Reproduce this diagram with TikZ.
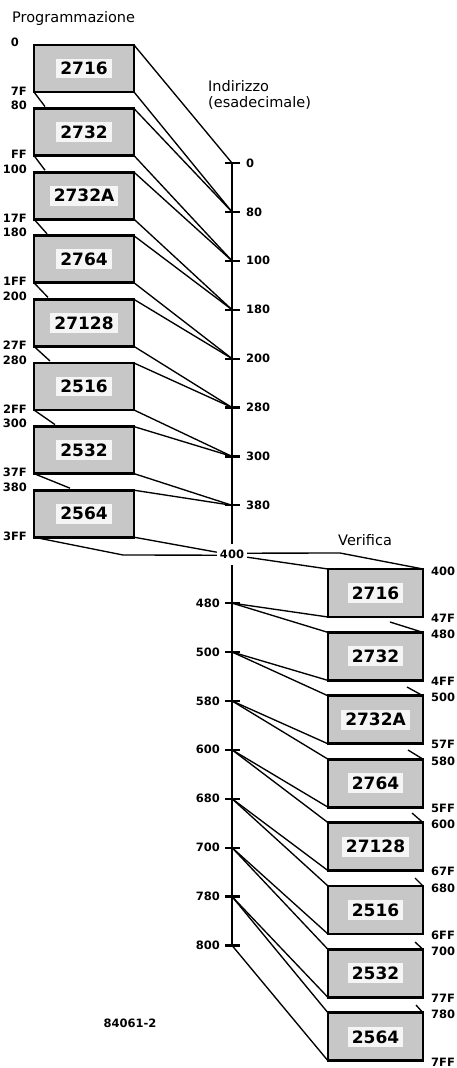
\documentclass[tikz,border=0pt]{standalone}
\usepackage{fontspec}
\setmainfont{DejaVu Sans}
\definecolor{promgray}{gray}{0.78}
\definecolor{labwhite}{gray}{0.96}
\begin{document}
\begin{tikzpicture}[x=1pt,y=-1pt,
  promL/.style={draw=black, line width=2.8pt, fill=promgray, minimum width=100pt, minimum height=47pt, inner sep=0pt, outer sep=0pt},
  promR/.style={promL, minimum width=95pt, minimum height=48pt},
  boxlab/.style={fill=labwhite, font=\bfseries\fontsize{17}{17}\selectfont, inner xsep=4pt, inner ysep=3.5pt},
  conn/.style={line width=1.35pt, line join=round},
  axisline/.style={line width=2.2pt},
  tickline/.style={line width=2.2pt},
  sidelab/.style={font=\bfseries\fontsize{11.5}{11.5}\selectfont, inner sep=0pt},
  head/.style={font=\fontsize{14.5}{16}\selectfont, inner sep=0pt, align=left}]
\useasboundingbox[fill=white] (0,0) rectangle (457,1068);

% headings
\node[head, anchor=west] (hprog) at (12,18) {Programmazione};
\node[head, anchor=north west] (hind) at (208,80) {Indirizzo\\(esadecimale)};
\node[head, anchor=west] (hver) at (338,540) {Verifica};
\node[sidelab] (fig) at (130,1023) {84061-2};

% axis ticks
\foreach \j in {0,...,16}{
  \pgfmathsetmacro\yy{163+48.9*\j}
  \coordinate (t\j) at (232,\yy);
}
\node[sidelab, inner xsep=3pt, inner ysep=6pt] (a400) at (t8) {400};
\draw[axisline] (t0) -- (a400.north);
\draw[axisline] (a400.south) -- (t16);
\foreach \j in {0,...,7,9,10,...,16}{
  \draw[tickline] ([xshift=-7pt]t\j) -- ([xshift=8pt]t\j);
}
\foreach \lab [count=\j from 0] in {0,80,100,180,200,280,300,380}{
  \node[sidelab, anchor=west] (ua\j) at ([xshift=14pt]t\j) {\lab};
}
\foreach \lab [count=\i from 9] in {480,500,580,600,680,700,780,800}{
  \node[sidelab, anchor=east] (la\i) at ([xshift=-12pt]t\i) {\lab};
}

% left boxes
\foreach \nm [count=\k from 0] in {2716,2732,2732A,2764,27128,2516,2532,2564}{
  \pgfmathsetmacro\yy{68.5+63.6*\k}
  \node[promL] (L\k) at (84,\yy) {};
  \node[boxlab] (Lt\k) at (L\k) {\nm};
}
% right boxes
\foreach \nm [count=\k from 0] in {2716,2732,2732A,2764,27128,2516,2532,2564}{
  \pgfmathsetmacro\yy{593+63.4*\k}
  \node[promR] (R\k) at (375.5,\yy) {};
  \node[boxlab] (Rt\k) at (R\k) {\nm};
}

% left labels
\foreach \lab [count=\k from 0] in {0,80,100,180,200,280,300,380}{
  \pgfmathsetmacro\yy{45+63.6*\k-3}
  \ifnum\k=0
    \node[sidelab, anchor=east] (ls\k) at (19,\yy) {\lab};
  \else
    \node[sidelab, anchor=east] (ls\k) at (27,\yy) {\lab};
  \fi
}
\foreach \lab [count=\k from 0] in {7F,FF,17F,1FF,27F,2FF,37F,3FF}{
  \pgfmathsetmacro\yy{92+63.6*\k-1}
  \node[sidelab, anchor=east] (le\k) at (27,\yy) {\lab};
}
% right labels
\foreach \lab [count=\k from 0] in {400,480,500,580,600,680,700,780}{
  \pgfmathsetmacro\yy{569+63.4*\k+2}
  \node[sidelab, anchor=west] (rs\k) at (431,\yy) {\lab};
}
\foreach \lab [count=\k from 0] in {47F,4FF,57F,5FF,67F,6FF,77F,7FF}{
  \pgfmathsetmacro\yy{617+63.4*\k+1}
  \node[sidelab, anchor=west] (re\k) at (431,\yy) {\lab};
}

% left connectors
\foreach \k in {0,...,7}{
  \draw[conn] (L\k.north east) -- (t\k);
}
\foreach \k in {0,...,6}{
  \pgfmathtruncatemacro\kn{\k+1}
  \draw[conn] (L\k.south east) -- (t\kn);
}
\foreach \ex [count=\k from 0] in {45,45,47,48,50,55,70}{
  \pgfmathsetmacro\ey{45+63.6*(\k+1)-2}
  \coordinate (lh\k) at (\ex,\ey);
  \draw[conn] (L\k.south west) -- (lh\k);
}
\coordinate (b3ff) at (123,555);
\draw[conn] (L7.south east) -- ([yshift=2pt]a400.west);
\draw[conn] (L7.south west) -- (b3ff) -- ([yshift=-1pt]a400.west);

% right connectors
\coordinate (b400) at (340,553);
\draw[conn] ([yshift=1pt]a400.east) -- (b400) -- (R0.north east);
\draw[conn] ([yshift=-3pt]a400.east) -- (R0.north west);
\foreach \k in {0,...,7}{
  \pgfmathtruncatemacro\j{9+\k}
  \draw[conn] (t\j) -- (R\k.south west);
}
\foreach \k in {1,...,7}{
  \pgfmathtruncatemacro\j{8+\k}
  \draw[conn] (t\j) -- (R\k.north west);
}
\foreach \sx/\sy [count=\k from 1] in {390/622,407/687,408/750,412/813,415/878,415/942,416/1005}{
  \coordinate (rh\k) at (\sx,\sy);
  \draw[conn] (rh\k) -- (R\k.north east);
}
\end{tikzpicture}
\end{document}
